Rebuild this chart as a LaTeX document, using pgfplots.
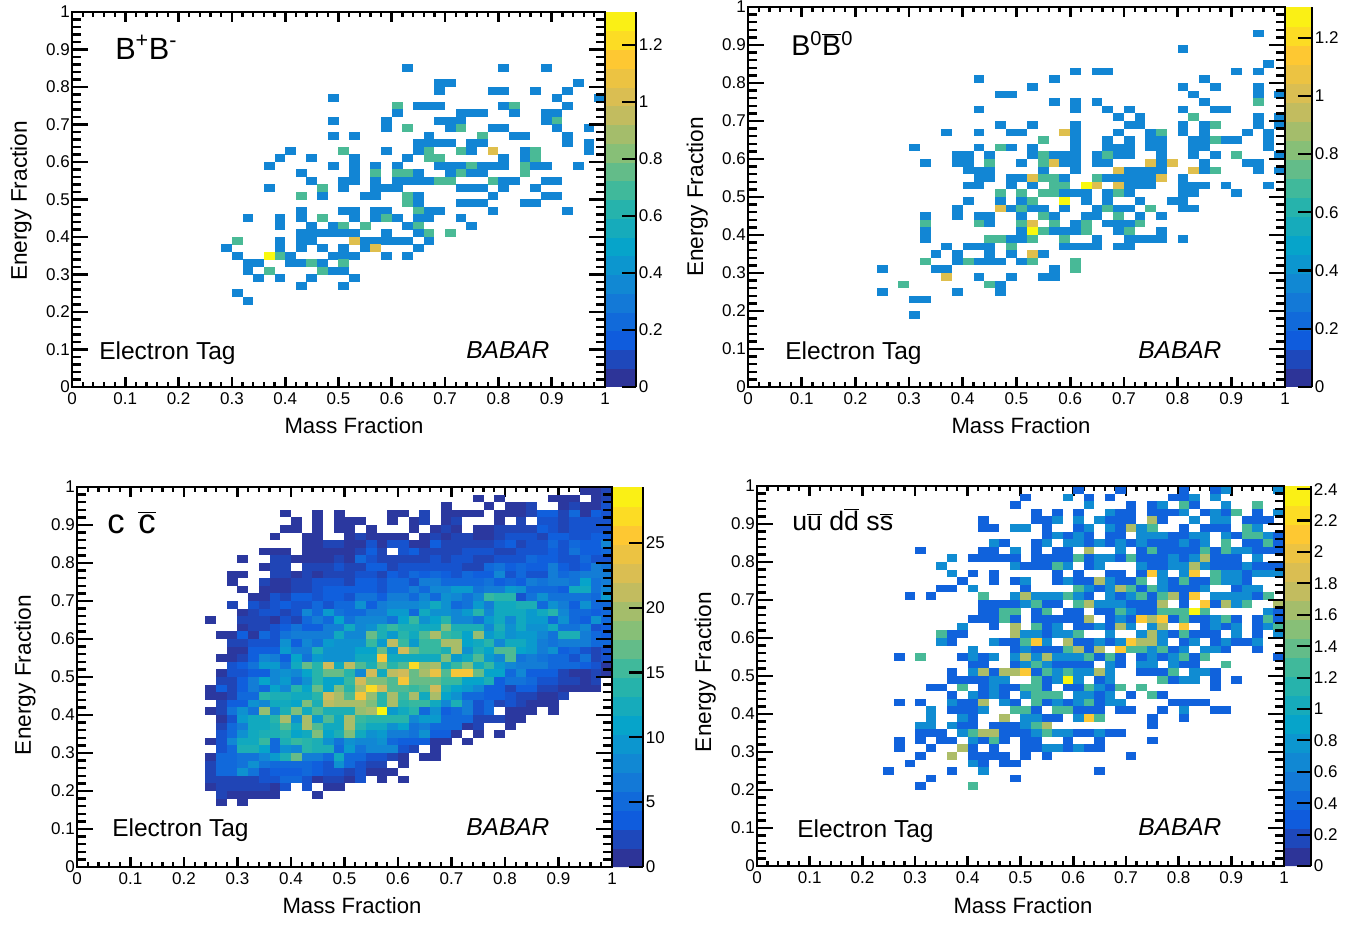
\documentclass[border=0pt]{standalone}
\usepackage{fontspec}
\setmainfont{Liberation Sans}
\usepackage{pgfplots}
\pgfplotsset{compat=1.18}
\def\binw{4pt}\def\binh{2.85pt}
\pgfdeclareplotmark{bin}{\pgfpathrectangle{\pgfqpoint{-\binw}{-\binh}}{\pgfqpoint{\dimexpr2\dimexpr\binw\relax\relax}{\dimexpr2\dimexpr\binh\relax\relax}}\pgfusepathqfill}
\newcommand\tf{\fontsize{12.75}{14}\selectfont}
\newcommand\lf{\fontsize{16.6}{18}\selectfont}
\newcommand\vf{\fontsize{17}{18}\selectfont}
\newcommand\ef{\fontsize{18.4}{20}\selectfont}
\pgfplotsset{
  colormap={bird}{rgb=(.2082,.1664,.5293) rgb=(.0592,.3599,.8684) rgb=(.0780,.5041,.8385) rgb=(.0232,.6419,.7914) rgb=(.1802,.7178,.6425) rgb=(.5301,.7492,.4662) rgb=(.8186,.7328,.3499) rgb=(.9956,.7862,.1968) rgb=(.9764,.9832,.0539)},
  bins/.style={scatter,only marks,mark=bin,point meta=explicit},
  frameax/.style={scale only axis,anchor=south west,xmin=0,xmax=1,ymin=0,ymax=1,axis on top,
    axis line style={line width=2pt},tick align=inside,
    major tick style={black,line width=2pt},minor tick style={black,line width=1.7pt},
    xtick pos=both,ytick pos=both,tick label style={font=\tf}},
  xside/.style={ytick=\empty,xtick={0,.1,.2,.3,.4,.5,.6,.7,.8,.9,1},
    xticklabels={0,0.1,0.2,0.3,0.4,0.5,0.6,0.7,0.8,0.9,1},minor x tick num=4,
    major tick length=7.5pt,minor tick length=3.75pt,
    xticklabel style={inner ysep=1.5pt,yshift=-2.5pt}},
  yside/.style={xtick=\empty,ytick={0,.1,.2,.3,.4,.5,.6,.7,.8,.9,1},
    yticklabels={0,0.1,0.2,0.3,0.4,0.5,0.6,0.7,0.8,0.9,1},minor y tick num=4,
    major tick length=12pt,minor tick length=6.5pt,
    yticklabel style={inner xsep=1.5pt}},
  cb/.style n args={3}{colorbar,colorbar sampled,colorbar shift/.style={xshift=0pt},colorbar style={
    samples=21,at={(parent axis.north east)},anchor=north west,
    scale only axis,width=#1,
    axis x line=none,axis y line=right,axis line style={-,line width=2pt},
    xtick=\empty,tick align=inside,major tick length=10.5pt,minor tick length=0pt,
    minor y tick num=0,major tick style={black,line width=1.6pt},
    ytick={#2},yticklabels={#3},
    yticklabel style={font=\tf,anchor=west,inner xsep=2pt}}},
}
\newcommand\R[2]{\addplot[bins] table[x expr=\thisrowno{0}/100,y expr=#1/100,meta index=1,row sep=\\]{#2};}
\begin{document}
\begin{tikzpicture}
\path[use as bounding box] (0,0) rectangle (1022.25pt,694.5pt);
% ---------- B+B-
\def\binw{4.03pt}\def\binh{2.84pt}
\begin{axis}[frameax,xside,at={(54pt,404.25pt)},width=399.75pt,height=281.25pt,
  point meta min=0,point meta max=1.316,
  cb={23.25pt}{0,.2,.4,.6,.8,1,1.2}{0,0.2,0.4,0.6,0.8,1,1.2}]
\R{85}{63 .35\\81 .35\\89 .35\\}
\R{81}{69 .35\\71 .35\\95 .35\\}
\R{79}{69 .35\\79 .35\\81 .35\\87 .35\\93 .35\\}
\R{77}{49 .35\\91 .35\\99 .35\\}
\R{75}{61 .71\\65 .35\\67 .35\\69 .35\\81 .35\\83 .71\\93 .35\\}
\R{73}{61 .35\\73 .35\\75 .35\\77 .35\\83 .35\\89 .35\\91 .35\\}
\R{71}{49 .35\\59 .35\\69 .35\\71 .35\\73 .35\\89 .35\\91 .71\\}
\R{69}{59 .35\\63 .71\\71 .35\\73 .71\\79 .35\\81 .35\\91 .35\\97 .35\\}
\R{67}{49 .35\\53 .35\\67 .35\\77 .71\\83 .35\\85 .35\\93 .35\\}
\R{65}{65 .35\\67 .35\\69 .35\\71 .35\\75 .35\\77 .35\\93 .35\\97 .35\\}
\R{63}{41 .35\\51 .71\\59 .35\\65 .35\\67 .71\\73 .71\\75 .35\\79 1.04\\85 .35\\87 .71\\97 .35\\}
\R{61}{39 .35\\45 .35\\53 .35\\63 .35\\67 .71\\69 .71\\81 .35\\85 .35\\87 .71\\}
\R{59}{37 .35\\49 .35\\53 .35\\57 .35\\61 .35\\69 .35\\71 .35\\73 .35\\75 .71\\77 .35\\79 .35\\81 .35\\85 .71\\87 .35\\89 .35\\95 .35\\}
\R{57}{43 .35\\53 .35\\57 .71\\61 .71\\63 .71\\65 .35\\71 .35\\73 .71\\75 .35\\77 .35\\85 .71\\}
\R{55}{45 .35\\51 .35\\53 .35\\57 .35\\61 .35\\63 .35\\65 .35\\67 .35\\69 .71\\71 .71\\79 .71\\81 .35\\83 .35\\89 .35\\91 .35\\}
\R{53}{37 .35\\47 .71\\51 .35\\57 .35\\59 .35\\61 .35\\73 .35\\75 .35\\77 .35\\81 .35\\87 .35\\}
\R{51}{43 .71\\47 .35\\55 .35\\57 .35\\63 .71\\65 .35\\79 .35\\89 .35\\91 .35\\}
\R{49}{63 .71\\65 .35\\73 .35\\75 .35\\77 .35\\85 .35\\87 .35\\}
\R{47}{43 .35\\51 .35\\53 .35\\57 .35\\59 .35\\65 .71\\67 .35\\69 .35\\79 .35\\93 .35\\}
\R{45}{33 .35\\39 .35\\43 .35\\47 .71\\53 .35\\57 .35\\59 .71\\61 .35\\65 .35\\67 .35\\73 .35\\}
\R{43}{39 .35\\45 .35\\49 .35\\51 .71\\55 .71\\63 .35\\65 .71\\75 .35\\}
\R{41}{43 .35\\45 .35\\47 .35\\49 .35\\51 .35\\53 .35\\59 .35\\65 .35\\67 .71\\71 .71\\}
\R{39}{31 .71\\39 .35\\43 .35\\45 .35\\53 1.04\\55 .35\\57 .35\\59 .35\\61 .35\\63 .35\\67 .35\\}
\R{37}{29 .35\\39 .35\\43 .35\\47 .35\\51 .35\\55 .35\\57 1.04\\65 .35\\}
\R{35}{31 .35\\37 1.31\\39 .71\\41 .35\\49 .35\\51 .35\\53 .35\\59 .35\\63 .35\\}
\R{33}{33 .35\\35 .35\\41 .35\\43 .35\\45 .71\\47 .35\\51 .71\\}
\R{31}{33 .35\\37 .71\\47 .71\\49 .35\\51 .35\\}
\R{29}{35 .35\\39 .35\\45 .35\\53 .35\\}
\R{27}{43 .35\\51 .35\\}
\R{25}{31 .35\\}
\R{23}{33 .35\\}
\end{axis}
\begin{axis}[frameax,yside,at={(54pt,404.25pt)},width=399.75pt,height=281.25pt]\end{axis}
% ---------- B0B0bar
\def\binw{4.06pt}\def\binh{2.88pt}
\begin{axis}[frameax,xside,at={(561pt,404.25pt)},width=402.75pt,height=285pt,
  point meta min=0,point meta max=1.305,
  cb={20.25pt}{0,.2,.4,.6,.8,1,1.2}{0,0.2,0.4,0.6,0.8,1,1.2}]
\R{93}{95 .35\\}
\R{89}{81 .35\\}
\R{85}{97 .35\\}
\R{83}{61 .35\\65 .35\\67 .35\\91 .35\\95 .35\\}
\R{81}{43 .35\\57 .35\\85 .35\\}
\R{79}{53 .35\\81 .35\\87 .35\\95 .35\\}
\R{77}{47 .35\\49 .35\\83 .35\\95 .35\\99 .35\\}
\R{75}{57 .35\\61 .35\\65 .35\\85 .35\\95 .7\\}
\R{73}{43 .35\\61 .35\\67 .35\\71 .35\\81 .35\\87 .35\\89 .35\\}
\R{71}{69 .35\\73 .35\\83 .7\\95 .35\\99 .35\\}
\R{69}{47 .35\\53 .35\\61 .35\\71 .35\\73 .35\\81 .35\\85 .35\\87 .7\\95 .35\\99 .35\\}
\R{67}{37 .35\\43 .35\\49 .35\\51 .35\\59 1.03\\61 .35\\69 .35\\75 .35\\77 .7\\81 .35\\85 .35\\93 .35\\97 .35\\}
\R{65}{55 .7\\61 .35\\67 .35\\71 .35\\75 .35\\77 .35\\83 .35\\85 .35\\87 .7\\89 .35\\91 .35\\97 .35\\}
\R{63}{31 .35\\43 .35\\47 .7\\49 .35\\53 .35\\61 .35\\67 .35\\69 .35\\71 .35\\75 .35\\77 .35\\83 .35\\85 .35\\97 .35\\}
\R{61}{39 .35\\41 .35\\45 .35\\53 .35\\55 .7\\57 .35\\59 .35\\61 .35\\65 .35\\67 .7\\69 .35\\71 .35\\77 .35\\83 .35\\87 .35\\91 .7\\99 .35\\}
\R{59}{33 .35\\39 .35\\41 .35\\45 .7\\51 .35\\55 .7\\57 1.03\\59 .35\\61 .35\\65 .35\\67 .35\\75 1.03\\77 .35\\79 1.03\\85 .35\\93 .35\\95 .35\\}
\R{57}{41 .35\\43 .35\\45 .35\\55 .35\\61 .35\\69 1.03\\71 .35\\73 .35\\75 .35\\77 .35\\83 1.03\\85 .35\\87 .7\\95 .35\\99 .35\\}
\R{55}{43 .35\\45 .35\\49 .35\\51 .35\\53 1.03\\55 .7\\57 .7\\59 .35\\65 .7\\67 .35\\69 .35\\71 .35\\73 .35\\75 .35\\77 1.03\\81 .35\\}
\R{53}{41 .35\\43 .35\\49 .35\\53 .35\\57 .7\\59 .7\\63 1.3\\65 1.03\\69 1.03\\71 .35\\73 .35\\75 .35\\81 .35\\83 .35\\85 .35\\89 .35\\97 .35\\}
\R{51}{47 .7\\51 .7\\55 .7\\57 .7\\59 .35\\61 .35\\63 .35\\67 .35\\69 .7\\71 .35\\81 .35\\83 .35\\91 .35\\}
\R{49}{41 .35\\47 .35\\51 .35\\53 .7\\59 1.3\\63 .35\\67 .35\\73 .35\\79 .35\\81 .35\\}
\R{47}{39 .35\\47 1.03\\49 .35\\51 .7\\53 .35\\55 .35\\59 .35\\65 .35\\67 .7\\69 .35\\71 .35\\75 .7\\81 .35\\83 .35\\}
\R{45}{33 .35\\39 .35\\43 .35\\45 .35\\51 .35\\55 .7\\57 .35\\63 .35\\65 .35\\69 .7\\73 .35\\77 .35\\}
\R{43}{33 .7\\43 .7\\45 .35\\51 .7\\53 1.03\\57 .7\\61 .35\\63 .7\\67 .35\\69 .35\\71 .35\\73 .7\\}
\R{41}{33 .35\\51 .35\\53 1.3\\55 .7\\57 .35\\59 .35\\61 .35\\63 .7\\69 .35\\71 .7\\77 .35\\}
\R{39}{33 .35\\45 .7\\47 .7\\49 .35\\51 .35\\53 .7\\59 .7\\65 .35\\71 .35\\73 .35\\75 .35\\77 .35\\81 .35\\}
\R{37}{37 .35\\41 .35\\43 .35\\45 .35\\49 .7\\59 .35\\61 .35\\63 .35\\65 .35\\69 .35\\71 .35\\}
\R{35}{35 .35\\39 .35\\45 .35\\49 .35\\53 1.03\\55 .35\\}
\R{33}{33 .7\\39 .35\\41 .7\\43 .35\\45 .35\\47 .35\\51 .35\\53 .7\\61 .7\\}
\R{31}{25 .35\\35 .35\\37 .35\\57 .35\\61 .7\\}
\R{29}{37 1.03\\43 .35\\49 .35\\55 .35\\57 .35\\}
\R{27}{29 .7\\45 .7\\47 .35\\}
\R{25}{25 .35\\39 .35\\47 .35\\}
\R{23}{31 .35\\33 .35\\}
\R{19}{31 .35\\}
\end{axis}
\begin{axis}[frameax,yside,at={(561pt,404.25pt)},width=402.75pt,height=285pt]\end{axis}
% ---------- c cbar
\def\binw{4.04pt}\def\binh{2.88pt}
\begin{axis}[frameax,xside,at={(57.75pt,44.25pt)},width=401.25pt,height=285pt,
  point meta min=0,point meta max=29.3,
  cb={23.25pt}{0,5,10,15,20,25}{0,5,10,15,20,25}]
\R{99}{95 1\\97 1\\99 2\\}
\R{97}{75 1\\79 1\\89 1\\91 1\\93 1\\97 1\\99 2\\}
\R{95}{69 1\\77 1\\81 1\\83 1\\85 2\\91 1\\93 2\\95 1\\97 1\\99 3\\}
\R{93}{39 1\\45 1\\49 1\\59 1\\61 1\\65 2\\69 1\\71 1\\73 1\\75 1\\79 1\\81 1\\83 1\\85 2\\87 4\\89 4\\91 2\\93 5\\95 1\\97 4\\99 3\\}
\R{91}{41 1\\45 1\\49 1\\51 1\\53 1\\59 1\\63 1\\65 2\\69 1\\71 2\\79 1\\83 2\\87 3\\89 3\\91 2\\93 3\\95 3\\97 3\\99 3\\}
\R{89}{39 1\\41 1\\45 1\\49 1\\51 1\\55 1\\63 1\\67 1\\69 2\\71 1\\75 1\\77 1\\79 2\\81 2\\83 2\\85 2\\87 4\\89 3\\91 2\\93 3\\95 3\\97 3\\99 3\\}
\R{87}{37 1\\43 1\\45 1\\51 1\\53 2\\55 1\\57 1\\59 1\\61 1\\65 1\\67 2\\69 1\\71 2\\73 2\\75 1\\77 1\\79 2\\81 3\\83 3\\85 3\\87 2\\89 4\\91 4\\93 3\\95 3\\97 4\\99 4\\}
\R{85}{43 1\\45 1\\47 2\\49 2\\51 1\\53 1\\55 3\\57 1\\59 3\\61 3\\63 1\\65 1\\67 4\\69 2\\71 2\\73 2\\75 2\\77 2\\79 3\\81 4\\83 2\\85 3\\87 3\\89 5\\91 3\\93 5\\95 4\\97 4\\99 8\\}
\R{83}{35 1\\37 1\\39 1\\43 1\\45 1\\47 1\\49 1\\51 1\\53 2\\55 4\\57 2\\61 3\\63 4\\65 2\\67 2\\69 2\\71 2\\73 3\\75 3\\77 3\\79 2\\81 2\\83 3\\85 3\\87 3\\89 4\\91 3\\93 6\\95 4\\97 4\\99 5\\}
\R{81}{31 1\\37 2\\39 2\\41 1\\43 1\\45 1\\47 1\\49 2\\51 1\\53 5\\55 3\\57 2\\59 2\\61 2\\63 2\\65 2\\67 3\\69 2\\71 3\\73 3\\75 2\\77 2\\79 3\\81 3\\83 3\\85 5\\87 4\\89 4\\91 3\\93 3\\95 5\\97 3\\99 3\\}
\R{79}{35 1\\37 2\\39 2\\43 2\\45 2\\47 2\\49 3\\51 2\\53 2\\55 4\\57 4\\59 2\\61 3\\63 3\\65 3\\67 3\\69 3\\71 3\\73 2\\75 2\\77 5\\79 6\\81 4\\83 5\\85 4\\87 4\\89 7\\91 4\\93 3\\95 4\\97 7\\99 6\\}
\R{77}{29 1\\31 1\\37 2\\39 2\\41 1\\43 2\\45 1\\47 2\\49 2\\51 2\\53 3\\55 3\\57 2\\59 4\\61 3\\63 5\\65 4\\67 5\\69 4\\71 3\\73 5\\75 4\\77 4\\79 8\\81 3\\83 5\\85 3\\87 3\\89 7\\91 5\\93 6\\95 7\\97 7\\99 7\\}
\R{75}{29 1\\35 2\\37 1\\39 1\\41 2\\43 2\\45 3\\47 3\\49 3\\51 2\\53 4\\55 4\\57 3\\59 5\\61 5\\63 3\\65 7\\67 7\\69 5\\71 5\\73 5\\75 5\\77 6\\79 4\\81 5\\83 4\\85 7\\87 6\\89 7\\91 7\\93 6\\95 11\\97 6\\99 7\\}
\R{73}{31 1\\35 1\\37 1\\39 1\\41 2\\43 2\\45 3\\47 4\\49 4\\51 4\\53 4\\55 4\\57 3\\59 5\\61 5\\63 7\\65 5\\67 8\\69 8\\71 10\\73 10\\75 6\\77 7\\79 7\\81 10\\83 9\\85 5\\87 5\\89 5\\91 4\\93 12\\95 12\\97 6\\99 8\\}
\R{71}{33 1\\35 1\\37 3\\39 2\\41 4\\43 4\\45 3\\47 4\\49 4\\51 3\\53 6\\55 6\\57 4\\59 7\\61 7\\63 5\\65 8\\67 5\\69 9\\71 8\\73 6\\75 8\\77 15\\79 14\\81 14\\83 3\\85 6\\87 9\\89 6\\91 6\\93 6\\95 6\\97 5\\99 10\\}
\R{69}{29 2\\33 3\\35 2\\37 3\\39 4\\41 3\\43 3\\45 5\\47 3\\49 5\\51 5\\53 9\\55 4\\57 7\\59 8\\61 8\\63 8\\65 9\\67 12\\69 9\\71 5\\73 6\\75 10\\77 7\\79 12\\81 12\\83 13\\85 13\\87 5\\89 9\\91 7\\93 4\\95 9\\97 5\\99 5\\}
\R{67}{31 1\\33 2\\35 3\\37 3\\39 2\\41 3\\43 8\\45 5\\47 10\\49 6\\51 5\\53 5\\55 7\\57 7\\59 10\\61 10\\63 5\\65 12\\67 9\\69 9\\71 8\\73 10\\75 14\\77 8\\79 12\\81 12\\83 12\\85 10\\87 12\\89 14\\91 8\\93 5\\95 5\\97 4\\99 5\\}
\R{65}{25 1\\31 2\\33 2\\35 2\\37 1\\39 3\\41 2\\43 5\\45 7\\47 5\\49 11\\51 6\\53 8\\55 8\\57 8\\59 6\\61 11\\63 15\\65 9\\67 11\\69 14\\71 8\\73 8\\75 6\\77 10\\79 12\\81 8\\83 12\\85 10\\87 10\\89 5\\91 9\\93 5\\95 4\\97 9\\99 5\\}
\R{63}{31 1\\33 2\\35 2\\37 3\\39 4\\41 6\\43 4\\45 4\\47 7\\49 7\\51 12\\53 8\\55 9\\57 13\\59 15\\61 13\\63 13\\65 12\\67 12\\69 18\\71 13\\73 13\\75 13\\77 8\\79 13\\81 9\\83 12\\85 9\\87 9\\89 12\\91 6\\93 6\\95 8\\97 3\\99 4\\}
\R{61}{27 1\\29 1\\31 4\\33 1\\35 5\\37 3\\39 6\\41 7\\43 7\\45 7\\47 7\\49 12\\51 8\\53 8\\55 17\\57 13\\59 10\\61 14\\63 12\\65 16\\67 20\\69 15\\71 14\\73 11\\75 19\\77 10\\79 12\\81 9\\83 10\\85 10\\87 8\\89 6\\91 13\\93 13\\95 7\\97 5\\99 4\\}
\R{59}{29 2\\31 2\\33 3\\35 3\\37 3\\39 9\\41 4\\43 8\\45 6\\47 10\\49 9\\51 9\\53 9\\55 15\\57 10\\59 21\\61 15\\63 10\\65 15\\67 15\\69 20\\71 20\\73 11\\75 12\\77 14\\79 8\\81 12\\83 12\\85 10\\87 7\\89 6\\91 7\\93 7\\95 7\\97 5\\99 5\\}
\R{57}{29 1\\31 1\\33 4\\35 4\\37 4\\39 10\\41 7\\43 7\\45 13\\47 9\\49 9\\51 9\\53 11\\55 11\\57 17\\59 10\\61 22\\63 17\\65 15\\67 15\\69 13\\71 20\\73 9\\75 13\\77 11\\79 16\\81 16\\83 11\\85 10\\87 7\\89 9\\91 4\\93 5\\95 3\\97 2\\99 3\\}
\R{55}{27 1\\29 1\\31 2\\33 4\\35 8\\37 7\\39 4\\41 11\\43 6\\45 10\\47 9\\49 9\\51 9\\53 12\\55 12\\57 25\\59 12\\61 12\\63 12\\65 12\\67 12\\69 18\\71 10\\73 12\\75 16\\77 10\\79 8\\81 16\\83 6\\85 7\\87 6\\89 5\\91 5\\93 3\\95 6\\97 2\\99 3\\}
\R{53}{29 3\\31 4\\33 6\\35 10\\37 10\\39 6\\41 12\\43 17\\45 14\\47 22\\49 12\\51 21\\53 16\\55 13\\57 18\\59 14\\61 16\\63 27\\65 19\\67 20\\69 12\\71 15\\73 18\\75 12\\77 15\\79 10\\81 8\\83 7\\85 7\\87 7\\89 5\\91 5\\93 5\\95 4\\97 3\\99 1\\}
\R{51}{27 1\\29 3\\31 3\\33 4\\35 4\\37 8\\39 9\\41 8\\43 11\\45 14\\47 17\\49 17\\51 14\\53 8\\55 22\\57 12\\59 21\\61 22\\63 17\\65 20\\67 24\\69 16\\71 25\\73 25\\75 17\\77 11\\79 11\\81 5\\83 8\\85 4\\87 4\\89 4\\91 2\\93 1\\95 1\\97 2\\99 1\\}
\R{49}{27 2\\29 2\\31 4\\33 7\\35 11\\37 8\\39 10\\41 6\\43 9\\45 14\\47 11\\49 11\\51 15\\53 22\\55 18\\57 18\\59 16\\61 25\\63 17\\65 17\\67 17\\69 15\\71 15\\73 11\\75 11\\77 13\\79 4\\81 6\\83 6\\85 5\\87 3\\89 3\\91 2\\93 2\\95 1\\97 2\\}
\R{47}{25 1\\27 4\\29 2\\31 4\\33 7\\35 5\\37 11\\39 8\\41 14\\43 11\\45 17\\47 11\\49 18\\51 14\\53 20\\55 27\\57 22\\59 16\\61 16\\63 15\\65 16\\67 22\\69 13\\71 11\\73 10\\75 8\\77 4\\79 4\\81 2\\83 4\\85 4\\87 2\\89 2\\91 1\\93 1\\95 1\\97 1\\}
\R{45}{25 1\\27 1\\29 2\\31 5\\33 5\\35 14\\37 13\\39 13\\41 12\\43 12\\45 14\\47 22\\49 20\\51 16\\53 25\\55 19\\57 14\\59 20\\61 15\\63 20\\65 12\\67 20\\69 11\\71 9\\73 5\\75 5\\77 4\\79 4\\81 3\\83 2\\85 2\\87 1\\89 1\\91 2\\}
\R{43}{27 2\\29 4\\31 4\\33 9\\35 8\\37 12\\39 12\\41 11\\43 18\\45 13\\47 21\\49 20\\51 20\\53 20\\55 18\\57 14\\59 20\\61 14\\63 15\\65 15\\67 12\\69 8\\71 13\\73 7\\75 3\\77 5\\79 2\\81 3\\83 2\\85 1\\87 1\\89 1\\}
\R{41}{25 1\\27 2\\29 6\\31 9\\33 6\\35 19\\37 8\\39 13\\41 18\\43 12\\45 16\\47 13\\49 13\\51 13\\53 19\\55 20\\57 29\\59 10\\61 12\\63 14\\65 5\\67 9\\69 4\\71 5\\73 7\\75 3\\77 5\\81 1\\83 1\\85 1\\89 1\\}
\R{39}{27 1\\29 3\\31 10\\33 12\\35 12\\37 14\\39 20\\41 9\\43 20\\45 10\\47 16\\49 12\\51 20\\53 15\\55 14\\57 14\\59 14\\61 14\\63 8\\65 10\\67 10\\69 5\\71 5\\73 5\\75 2\\77 2\\79 2\\81 1\\83 1\\}
\R{37}{27 2\\29 5\\31 7\\33 12\\35 12\\37 13\\39 16\\41 12\\43 20\\45 16\\47 12\\49 12\\51 20\\53 14\\55 12\\57 12\\59 9\\61 11\\63 6\\65 7\\67 5\\69 5\\71 5\\73 1\\75 2\\81 1\\}
\R{35}{27 3\\29 5\\31 9\\33 12\\35 13\\37 13\\39 14\\41 11\\43 12\\45 18\\47 11\\49 13\\51 18\\53 12\\55 9\\57 10\\59 7\\61 7\\63 6\\65 9\\67 4\\69 4\\71 1\\75 1\\79 1\\}
\R{33}{25 1\\27 3\\29 8\\31 12\\33 12\\35 15\\37 5\\39 13\\41 15\\43 14\\45 13\\47 9\\49 6\\51 9\\53 8\\55 8\\57 9\\59 5\\61 4\\63 4\\65 4\\67 1\\69 1\\73 1\\}
\R{31}{27 3\\29 5\\31 13\\33 13\\35 11\\37 5\\39 9\\41 8\\43 14\\45 13\\47 13\\49 5\\51 10\\53 6\\55 8\\57 8\\59 8\\61 3\\63 2\\67 1\\}
\R{29}{25 1\\27 5\\29 5\\31 6\\33 6\\35 8\\37 10\\39 13\\41 17\\43 7\\45 7\\47 5\\49 12\\51 5\\53 5\\55 3\\57 3\\59 2\\61 1\\65 1\\67 1\\}
\R{27}{25 2\\27 5\\29 5\\31 6\\33 9\\35 6\\37 5\\39 5\\41 5\\43 5\\45 4\\47 3\\49 9\\51 5\\53 3\\55 2\\57 2\\61 1\\}
\R{25}{25 2\\27 5\\29 5\\31 9\\33 6\\35 3\\37 4\\39 4\\41 4\\43 5\\45 4\\47 3\\49 3\\51 2\\53 3\\55 1\\57 1\\59 1\\}
\R{23}{25 2\\27 2\\29 2\\31 2\\33 2\\35 3\\37 3\\39 5\\41 5\\43 3\\45 1\\47 2\\49 2\\51 1\\53 3\\57 1\\61 1\\}
\R{21}{25 1\\27 2\\29 2\\31 2\\33 2\\35 2\\37 1\\39 3\\43 3\\47 1\\49 1\\}
\R{19}{27 2\\29 1\\31 1\\33 1\\35 1\\37 1\\45 1\\}
\R{17}{27 1\\31 1\\}
\end{axis}
\begin{axis}[frameax,yside,at={(57.75pt,44.25pt)},width=401.25pt,height=285pt]\end{axis}
% ---------- uds
\def\binw{3.98pt}\def\binh{2.88pt}
\begin{axis}[frameax,xside,at={(567.75pt,45pt)},width=395.25pt,height=285pt,
  point meta min=0,point meta max=2.42,
  cb={20.25pt}{0,.2,.4,.6,.8,1,1.2,1.4,1.6,1.8,2,2.2,2.4}{0,0.2,0.4,0.6,0.8,1,1.2,1.4,1.6,1.8,2,2.2,2.4}]
\R{99}{61 .35\\69 .35\\81 .35\\87 .35\\89 .7\\99 .7\\}
\R{97}{51 .35\\59 .7\\63 .35\\67 .35\\79 .35\\81 .35\\83 .7\\87 .7\\}
\R{95}{49 .35\\63 .7\\71 .35\\75 .35\\77 .7\\81 1.3\\83 .35\\89 .7\\95 1.3\\}
\R{93}{53 .35\\57 .35\\61 .35\\67 .7\\69 .35\\71 .35\\75 .35\\77 .35\\79 .35\\81 .7\\85 .35\\87 .7\\89 .35\\91 1.3\\95 .35\\99 .7\\}
\R{91}{43 .35\\53 .35\\55 .35\\57 .7\\61 .7\\65 .7\\67 .35\\69 .35\\71 .35\\75 1.67\\77 .35\\83 .7\\87 .7\\89 .7\\93 .35\\95 .35\\97 .35\\}
\R{89}{43 .35\\45 .35\\49 .7\\51 .7\\55 .35\\61 .35\\63 .7\\67 .7\\69 .35\\71 1.67\\73 .7\\75 1.3\\81 .35\\85 .35\\87 .35\\89 .35\\93 1.3\\95 .7\\}
\R{87}{55 .35\\57 .7\\59 .35\\61 .7\\63 .35\\67 .35\\69 .35\\73 .7\\75 .7\\77 .7\\79 .35\\81 .35\\83 .7\\85 .7\\89 .7\\91 .35\\93 1.3\\95 1.3\\97 .7\\99 .35\\}
\R{85}{45 .7\\47 .35\\53 .35\\55 .7\\59 .7\\61 .7\\63 .35\\65 .7\\67 .35\\69 .7\\71 .35\\73 .7\\75 .35\\77 .35\\79 .35\\81 .7\\83 .35\\85 .7\\89 1.3\\93 .35\\95 .35\\97 1.3\\99 .35\\}
\R{83}{31 .35\\43 .35\\45 .35\\49 .7\\53 .35\\57 .35\\59 .35\\63 1.67\\69 .7\\73 .35\\75 1.3\\77 .35\\79 .35\\81 .35\\83 .35\\85 1.3\\87 .35\\89 1.3\\91 .7\\93 .7\\95 .35\\97 .35\\99 .35\\}
\R{81}{37 .7\\41 .35\\43 .35\\45 .35\\47 .35\\49 .35\\53 .35\\55 .35\\57 .35\\59 .35\\61 1.3\\63 .35\\65 .7\\67 .7\\69 .35\\71 1.3\\73 .35\\75 .35\\77 .35\\79 .7\\81 .35\\83 .7\\85 1.67\\87 .35\\89 .35\\91 .35\\95 .7\\}
\R{79}{35 .7\\49 .7\\51 .35\\53 .35\\55 .35\\57 1.3\\59 .7\\63 .35\\65 .7\\73 .7\\75 .35\\77 .35\\79 .7\\81 .7\\83 1.67\\85 .7\\87 .35\\89 .35\\91 .35\\93 .7\\95 .35\\97 .35\\99 .35\\}
\R{77}{37 .7\\41 .35\\45 .35\\57 .35\\61 .35\\67 .35\\69 .35\\73 .35\\75 2.1\\77 .7\\81 .7\\83 2.1\\87 1.3\\89 .7\\91 .7\\93 .35\\95 .7\\97 .7\\99 .7\\}
\R{75}{39 .35\\45 .35\\49 .35\\51 .7\\57 .35\\59 .7\\61 .35\\63 .35\\65 1.67\\67 .7\\69 .35\\71 .35\\73 1.3\\77 .7\\79 .35\\81 1.3\\83 .35\\85 .35\\87 1.3\\89 .7\\91 .7\\93 .35\\}
\R{73}{35 .35\\37 .35\\41 .7\\51 .35\\61 1.3\\63 .7\\65 .35\\67 .7\\69 1.67\\71 1.3\\73 .35\\75 1.3\\77 .7\\79 .35\\81 .35\\83 .35\\85 .7\\91 .35\\93 .7\\95 .7\\}
\R{71}{29 .35\\33 .35\\43 1.3\\49 .7\\51 1.67\\53 .7\\55 .7\\57 .7\\59 1.3\\61 .7\\63 .35\\67 .7\\69 .35\\71 .7\\73 1.3\\75 .35\\77 1.3\\79 1.67\\81 .35\\83 2.1\\87 .7\\89 .7\\91 .7\\93 .7\\95 .35\\97 1.3\\}
\R{69}{43 .35\\45 .35\\47 .35\\49 .35\\51 .7\\53 1.3\\55 .35\\57 .35\\61 1.3\\63 1.67\\65 .7\\67 .7\\69 .7\\71 .35\\73 .35\\75 .35\\77 1.67\\81 .35\\85 2.1\\87 .35\\89 1.67\\91 .7\\93 1.3\\99 1.67\\}
\R{67}{43 .35\\45 .35\\47 1.3\\49 1.3\\53 .35\\55 1.3\\59 .35\\61 .35\\65 .35\\67 .35\\69 1.3\\71 .7\\73 .35\\75 .35\\77 1.3\\79 1.3\\81 1.3\\83 2.4\\85 1.3\\97 .7\\99 .35\\}
\R{65}{41 .35\\43 .35\\45 .35\\47 1.3\\49 .35\\53 .35\\55 .35\\57 .35\\59 .35\\61 .35\\63 1.67\\67 .35\\69 .7\\71 .35\\73 2.1\\75 1.67\\77 2.1\\79 .35\\81 1.3\\83 .35\\85 .35\\87 .7\\89 1.3\\91 .35\\95 .35\\97 1.3\\99 .35\\}
\R{63}{39 .7\\45 .35\\49 1.67\\53 1.3\\55 .35\\57 .7\\61 .35\\63 .35\\65 .7\\67 .35\\69 1.67\\71 .7\\75 .7\\77 1.67\\81 2.1\\85 .35\\87 .7\\89 .35\\91 .7\\95 .35\\97 .7\\99 1.3\\}
\R{61}{35 1.3\\37 .35\\39 .35\\49 1.67\\51 .7\\53 .7\\55 .35\\57 .7\\59 .7\\61 1.3\\67 .7\\73 .7\\75 1.67\\77 .7\\79 .35\\81 1.3\\83 .35\\85 .35\\87 .35\\91 .7\\95 .35\\99 .7\\}
\R{59}{35 .7\\37 .35\\45 .7\\47 .35\\49 .35\\51 1.3\\53 2.1\\55 .7\\59 1.67\\61 .35\\63 .35\\65 .7\\67 .35\\69 .7\\71 2.1\\73 1.67\\75 1.67\\77 .7\\81 .35\\83 .7\\87 .35\\89 .7\\91 .35\\93 .35\\95 .7\\}
\R{57}{41 .7\\49 .35\\51 .7\\53 .35\\55 .35\\57 .35\\59 1.3\\61 1.67\\63 .35\\65 1.67\\69 2.1\\71 1.3\\73 1.3\\75 .7\\77 1.3\\79 .35\\81 .7\\85 .7\\87 .7\\89 .35\\95 .35\\}
\R{55}{27 .35\\31 1.3\\39 .35\\41 .7\\43 .35\\45 .7\\49 .7\\51 1.67\\53 .7\\55 1.67\\57 .7\\59 .7\\61 .7\\63 1.3\\65 .35\\67 1.3\\69 .35\\73 .35\\75 .7\\77 .35\\79 .7\\81 1.3\\83 .35\\85 1.3\\99 .35\\}
\R{53}{41 .35\\43 .35\\49 .35\\51 .7\\53 1.3\\55 .7\\57 .35\\59 .35\\61 .35\\63 .35\\67 .7\\69 .35\\73 .7\\75 .7\\79 .7\\81 .35\\83 .35\\89 1.3\\}
\R{51}{37 .35\\41 .7\\43 1.67\\45 .35\\47 1.67\\49 1.67\\51 2.1\\53 .35\\55 1.3\\57 .7\\59 1.3\\61 .7\\63 .7\\65 1.67\\67 .7\\73 .35\\75 .35\\77 .35\\79 1.3\\83 .7\\85 .7\\87 .35\\}
\R{49}{37 .35\\39 .35\\41 .35\\43 .35\\45 .7\\47 .7\\53 1.3\\55 .35\\57 .7\\59 2.4\\61 .7\\65 .35\\67 .7\\77 1.3\\79 .35\\81 .7\\83 .7\\87 .35\\91 .35\\}
\R{47}{33 .35\\35 .35\\39 1.3\\43 .35\\45 .7\\47 .35\\49 .35\\51 1.3\\53 1.3\\55 .35\\59 .35\\61 .35\\63 1.3\\65 .7\\67 .35\\69 1.3\\73 1.3\\87 .35\\}
\R{45}{37 .35\\41 .7\\43 .35\\45 .7\\47 .35\\51 .7\\53 1.3\\55 1.3\\57 1.3\\61 .7\\63 .7\\65 .35\\67 .7\\71 .35\\75 1.3\\77 .35\\}
\R{43}{27 .35\\31 .35\\37 .7\\39 .35\\41 .35\\43 1.67\\47 .7\\49 .35\\53 1.3\\55 .35\\57 .7\\59 .35\\61 .7\\63 1.3\\65 .35\\67 .7\\69 .7\\79 .35\\81 .35\\83 .35\\85 .35\\}
\R{41}{33 .7\\37 .35\\39 .35\\41 .35\\43 .7\\49 1.3\\51 1.3\\53 .35\\57 1.3\\59 1.3\\61 .35\\63 .35\\65 .35\\69 .35\\71 .35\\77 .35\\81 .7\\87 .35\\89 .35\\}
\R{39}{33 .7\\39 .7\\41 .35\\47 1.67\\51 .7\\53 .7\\55 .35\\57 .35\\61 .7\\63 2.1\\65 1.3\\75 .35\\81 .35\\}
\R{37}{31 .7\\33 .7\\37 .7\\39 .35\\41 .35\\45 .35\\47 .35\\49 .35\\51 .7\\53 1.3\\55 1.67\\75 .35\\}
\R{35}{31 .35\\33 .35\\35 .35\\39 .7\\41 1.3\\43 1.67\\45 1.67\\47 .35\\49 .35\\51 .35\\53 .7\\55 1.3\\57 .7\\59 .7\\61 .35\\63 .35\\65 .7\\67 .35\\69 .35\\}
\R{33}{27 .35\\31 .35\\35 .35\\37 .35\\41 .7\\43 .35\\45 1.3\\47 .35\\51 .35\\53 .35\\59 .35\\65 .35\\75 .35\\}
\R{31}{27 .35\\33 .35\\39 1.67\\41 .35\\45 .35\\51 .35\\53 .35\\55 .7\\57 .7\\59 .35\\61 .7\\63 .35\\65 .35\\}
\R{29}{31 .35\\37 1.67\\41 .35\\43 .35\\45 .35\\47 .35\\51 .35\\55 .35\\71 .35\\}
\R{27}{29 .35\\41 .7\\43 .35\\47 .35\\49 .35\\}
\R{25}{25 .35\\37 .35\\43 .7\\65 .35\\}
\R{23}{33 .35\\49 .35\\}
\R{21}{31 .35\\41 1.3\\}
\end{axis}
\begin{axis}[frameax,yside,at={(567.75pt,45pt)},width=395.25pt,height=285pt]\end{axis}
% ---------- text, in pixel coordinates of the reference
\begin{scope}[x=.75pt,y=-.75pt,yshift=694.5pt]
\newcommand\lab[3]{\node[anchor=base,inner sep=0pt] at (#1,#2) {\lf #3};}
\lab{354}{433}{Mass Fraction}
\lab{1021}{433}{Mass Fraction}
\lab{352}{913}{Mass Fraction}
\lab{1023}{913}{Mass Fraction}
\newcommand\vlab[2]{\node[anchor=base,rotate=90,inner sep=0pt] at (#1,#2) {\vf Energy Fraction};}
\vlab{27}{201}
\vlab{703}{197}
\vlab{31}{675}
\vlab{711}{672}
\newcommand\ent[3]{\node[anchor=base west,inner sep=0pt] at (#1,#2) {\ef #3};}
\ent{99}{360}{Electron Tag}
\ent{785}{360}{Electron Tag}
\ent{112}{836}{Electron Tag}
\ent{797}{837}{Electron Tag}
\ent{466}{359}{\itshape BABAR}
\ent{1138}{359}{\itshape BABAR}
\ent{466}{835}{\itshape BABAR}
\ent{1138}{835}{\itshape BABAR}
\node[anchor=base west,inner sep=0pt] at (115,60) {\fontsize{23}{26}\selectfont B\textsuperscript{+}B\textsuperscript{-}};
\node[anchor=base west,inner sep=0pt] at (791,56) {\fontsize{21.5}{26}\selectfont B\textsuperscript{0}$\overline{\mbox{B}}$\textsuperscript{0}};
\node[anchor=base west,inner sep=0pt] at (107,533) {\fontsize{26}{28}\selectfont c\hspace{.4em}$\overline{\mbox{c}}$};
\node[anchor=base west,inner sep=0pt] at (792,530) {\fontsize{20}{22}\selectfont u$\overline{\mbox{u}}$ d$\overline{\mbox{d}}$ s$\overline{\mbox{s}}$};
\end{scope}
\end{tikzpicture}
\end{document}
